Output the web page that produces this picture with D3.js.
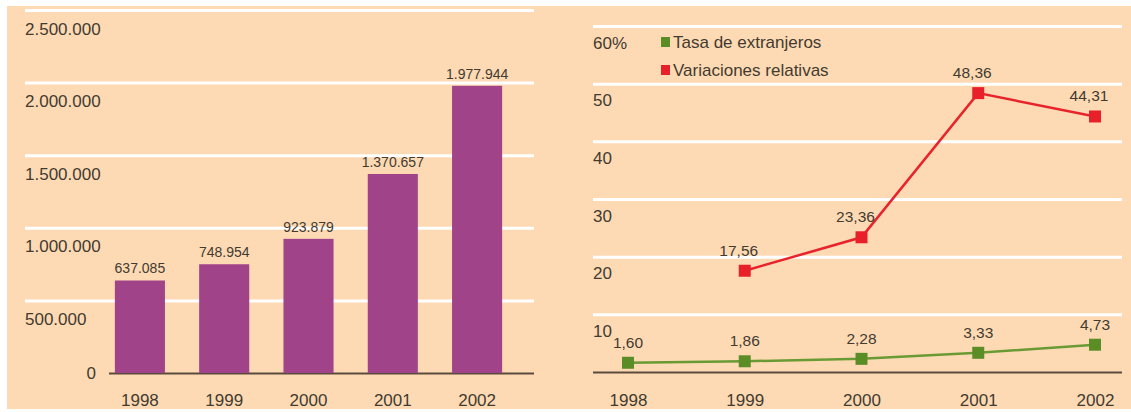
<!DOCTYPE html>
<html>
<head>
  <meta charset="UTF-8">
  <title>Extranjeros 1998-2002</title>
  <style>
    body { margin: 0; background: #fff; }
    svg { display: block; font-family: "Liberation Sans", Arial, sans-serif; }
  </style>
</head>
<body>
<svg></svg>
<script src="https://d3js.org/d3.v7.min.js"></script>
<script>
    // data
    var years = ["1998", "1999", "2000", "2001", "2002"];
    var residentes = [637085, 748954, 923879, 1370657, 1977944];
    var tasaExtranjeros = [1.60, 1.86, 2.28, 3.33, 4.73];
    var variaciones = [null, 17.56, 23.36, 48.36, 44.31];
    var leftTicks = [0, 500000, 1000000, 1500000, 2000000, 2500000];
    var rightTicks = [0, 10, 20, 30, 40, 50, 60];
    var legendLabels = ["Tasa de extranjeros", "Variaciones relativas"];

    let width = 1131, height = 412;
    var textColor = "#433a30";
    var axisColor = "#5b4b3c";

    let svg = d3.select("svg")
        .attr("width", width)
        .attr("height", height);

    // peach panel
    svg.append("rect")
        .attr("x", 7).attr("y", 6)
        .attr("width", width - 7).attr("height", 403)
        .attr("fill", "#fddab4");

    var es = d3.formatLocale({decimal: ",", thousands: ".", grouping: [3], currency: ["", ""]});
    var fmtInt = es.format(",d");
    var fmtDec = es.format(".2f");

    // ---------- left: bar chart ----------
    var y1 = d3.scaleLinear().domain([0, 2500000]).range([373, 10]);
    var x1 = d3.scaleBand().domain(years).range([98, 519])
        .paddingInner(0.406).paddingOuter(0.2);

    var gy1 = svg.append("g")
        .attr("transform", "translate(25,0)")
        .call(d3.axisLeft(y1).tickValues(leftTicks).tickSize(-509).tickFormat(fmtInt));
    gy1.select(".domain").remove();
    gy1.selectAll(".tick line")
        .attr("stroke", d => d == 0 ? axisColor : "#fff")
        .attr("stroke-width", d => d == 0 ? 2 : 3)
        .attr("x1", d => d == 0 ? 84 : 0);
    gy1.selectAll(".tick text")
        .attr("fill", textColor)
        .style("font-size", "17px")
        .attr("x", d => d == 0 ? 71 : 0)
        .attr("dy", d => d == 0 ? "0.35em" : "24px")
        .attr("text-anchor", d => d == 0 ? "end" : "start");

    svg.append("g")
        .selectAll("rect")
        .data(years)
        .enter().append("rect")
        .attr("x", d => x1(d))
        .attr("width", x1.bandwidth())
        .attr("y", (d, i) => y1(residentes[i]))
        .attr("height", (d, i) => y1(0) - y1(residentes[i]))
        .attr("fill", "#a14389");

    svg.append("g")
        .selectAll("text")
        .data(years)
        .enter().append("text")
        .attr("x", d => x1(d) + x1.bandwidth() / 2)
        .attr("y", (d, i) => y1(residentes[i]) - 7)
        .attr("text-anchor", "middle")
        .attr("fill", textColor)
        .style("font-size", "14px")
        .text((d, i) => fmtInt(residentes[i]));

    var gx1 = svg.append("g")
        .attr("transform", "translate(0,373)")
        .call(d3.axisBottom(x1).tickSize(0));
    gx1.select(".domain").remove();
    gx1.selectAll(".tick text")
        .attr("fill", textColor)
        .style("font-size", "17px")
        .attr("dy", "30px");

    // ---------- right: line chart ----------
    var y2 = d3.scaleLinear().domain([0, 60]).range([372, 26]);
    var x2 = d3.scalePoint().domain(years).range([628, 1095]);

    var gy2 = svg.append("g")
        .attr("transform", "translate(593,0)")
        .call(d3.axisLeft(y2).tickValues(rightTicks).tickSize(-529)
            .tickFormat(d => d == 60 ? d + "%" : (d == 0 ? "" : d)));
    gy2.select(".domain").remove();
    gy2.selectAll(".tick line")
        .attr("stroke", d => d == 0 ? axisColor : "#fff")
        .attr("stroke-width", d => d == 0 ? 2 : 3);
    gy2.selectAll(".tick text")
        .attr("fill", textColor)
        .style("font-size", "17px")
        .attr("x", 0)
        .attr("dy", "22px")
        .attr("text-anchor", "start");

    var gx2 = svg.append("g")
        .attr("transform", "translate(0,372)")
        .call(d3.axisBottom(x2).tickSize(0));
    gx2.select(".domain").remove();
    gx2.selectAll(".tick text")
        .attr("fill", textColor)
        .style("font-size", "17px")
        .attr("dy", "31px");

    var series = [
        {name: legendLabels[0], values: tasaExtranjeros, line: "#6a9a34", mark: "#5b8d27", dx: 0},
        {name: legendLabels[1], values: variaciones, line: "#e8232b", mark: "#e8202a", dx: -6}
    ];

    var line = d3.line()
        .defined(d => d.v != null)
        .x(d => x2(d.year))
        .y(d => y2(d.v));

    series.forEach(function(s) {
        var pts = years.map((yr, i) => ({year: yr, v: s.values[i]}));
        var valid = pts.filter(d => d.v != null);
        var g = svg.append("g");
        g.append("path")
            .datum(pts)
            .attr("d", line)
            .attr("fill", "none")
            .attr("stroke", s.line)
            .attr("stroke-width", 2.5);
        g.selectAll("rect")
            .data(valid)
            .enter().append("rect")
            .attr("x", d => x2(d.year) - 6)
            .attr("y", d => y2(d.v) - 6)
            .attr("width", 12).attr("height", 12)
            .attr("fill", s.mark);
        g.selectAll("text")
            .data(valid)
            .enter().append("text")
            .attr("x", d => x2(d.year) + s.dx)
            .attr("y", d => y2(d.v) - 15)
            .attr("text-anchor", "middle")
            .attr("fill", textColor)
            .style("font-size", "15.5px")
            .text(d => fmtDec(d.v));
    });

    // legend
    var legend = svg.selectAll("g.legend")
        .data(series)
        .enter().append("g")
        .attr("class", "legend")
        .attr("transform", (d, i) => "translate(661," + (42 + i * 28) + ")");
    legend.append("rect")
        .attr("x", 0).attr("y", -5)
        .attr("width", 9).attr("height", 10)
        .attr("fill", d => d.mark);
    legend.append("text")
        .attr("x", 12)
        .attr("dy", "0.35em")
        .attr("fill", textColor)
        .style("font-size", "17px")
        .text(d => d.name);
</script>
</body>
</html>
